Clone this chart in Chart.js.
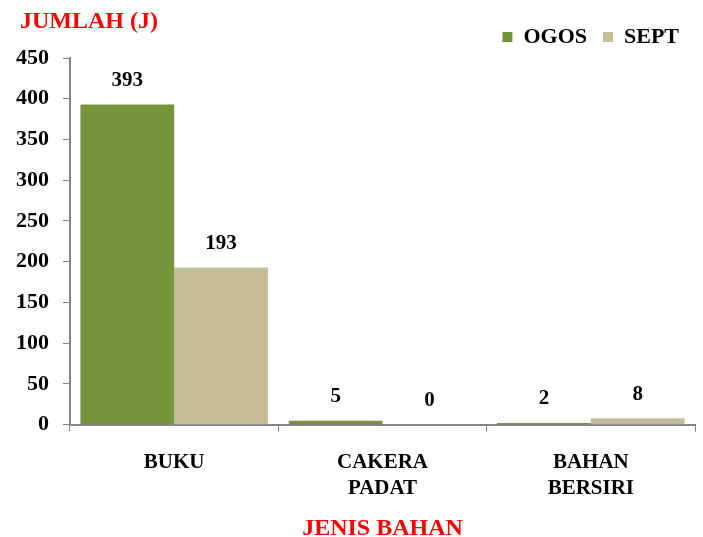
<!DOCTYPE html>
<html>
<head>
<meta charset="utf-8">
<script src="https://cdn.jsdelivr.net/npm/chart.js@4/dist/chart.umd.min.js"></script>
<style>
  html, body { margin: 0; padding: 0; background: #fff; }
  #wrap { width: 703px; height: 537px; }
</style>
</head>
<body>
<div id="wrap"><canvas id="chart"></canvas></div>
<script>
// data
const categories = [["BUKU"], ["CAKERA", "PADAT"], ["BAHAN", "BERSIRI"]];
const ogos = [393, 5, 2];
const sept = [193, 0, 8];
const yTicks = [0, 50, 100, 150, 200, 250, 300, 350, 400, 450];

const FONT = "'Liberation Serif', 'DejaVu Serif', serif";
const AXIS_GREY = "#868686";

// value labels above each bar + the y axis title in the top-left corner
const barLabels = {
  id: "barLabels",
  afterDatasetsDraw(chart) {
    const ctx = chart.ctx;
    ctx.save();
    ctx.font = "bold 21px " + FONT;
    ctx.fillStyle = "#000";
    ctx.textAlign = "center";
    ctx.textBaseline = "middle";
    chart.data.datasets.forEach((ds, i) => {
      chart.getDatasetMeta(i).data.forEach((bar, j) => {
        ctx.fillText(ds.data[j], bar.x, bar.y - 24);
      });
    });
    // y axis title
    ctx.font = "bold 24px " + FONT;
    ctx.fillStyle = "#ff0000";
    ctx.textAlign = "left";
    ctx.fillText("JUMLAH (J)", 20, 22);
    ctx.restore();
  }
};

new Chart(document.getElementById("chart"), {
  type: "bar",
  data: {
    labels: categories,
    datasets: [
      { label: "OGOS", data: ogos, backgroundColor: "#77933C" },
      { label: "SEPT", data: sept, backgroundColor: "#C4BD97" }
    ]
  },
  options: {
    responsive: true,
    maintainAspectRatio: false,
    animation: false,
    categoryPercentage: 0.9,
    barPercentage: 1.0,
    layout: { padding: { top: 10, right: 8, left: 2, bottom: 0 } },
    plugins: {
      legend: {
        position: "top",
        align: "end",
        labels: {
          boxWidth: 10,
          boxHeight: 10,
          padding: 16,
          color: "#000",
          font: { family: FONT, size: 22, weight: "bold" }
        }
      },
      tooltip: { enabled: false }
    },
    scales: {
      x: {
        grid: {
          display: true,
          drawOnChartArea: false,
          offset: true,
          color: AXIS_GREY,
          tickLength: 7
        },
        border: { color: AXIS_GREY, width: 2 },
        ticks: {
          color: "#000",
          padding: 18,
          maxRotation: 0,
          font: { family: FONT, size: 21, weight: "bold", lineHeight: 1.25 }
        },
        title: {
          display: true,
          text: "JENIS BAHAN",
          color: "#ff0000",
          padding: { top: 0, bottom: 0 },
          font: { family: FONT, size: 24, weight: "bold", lineHeight: 0.7 }
        }
      },
      y: {
        min: 0,
        max: 450,
        afterBuildTicks(axis) {
          axis.ticks = yTicks.map(v => ({ value: v }));
        },
        grid: {
          display: true,
          drawOnChartArea: false,
          color: AXIS_GREY,
          tickLength: 7
        },
        border: { color: AXIS_GREY, width: 2 },
        ticks: {
          color: "#000",
          padding: 14,
          font: { family: FONT, size: 22, weight: "bold" }
        }
      }
    }
  },
  plugins: [barLabels]
});
</script>
</body>
</html>
